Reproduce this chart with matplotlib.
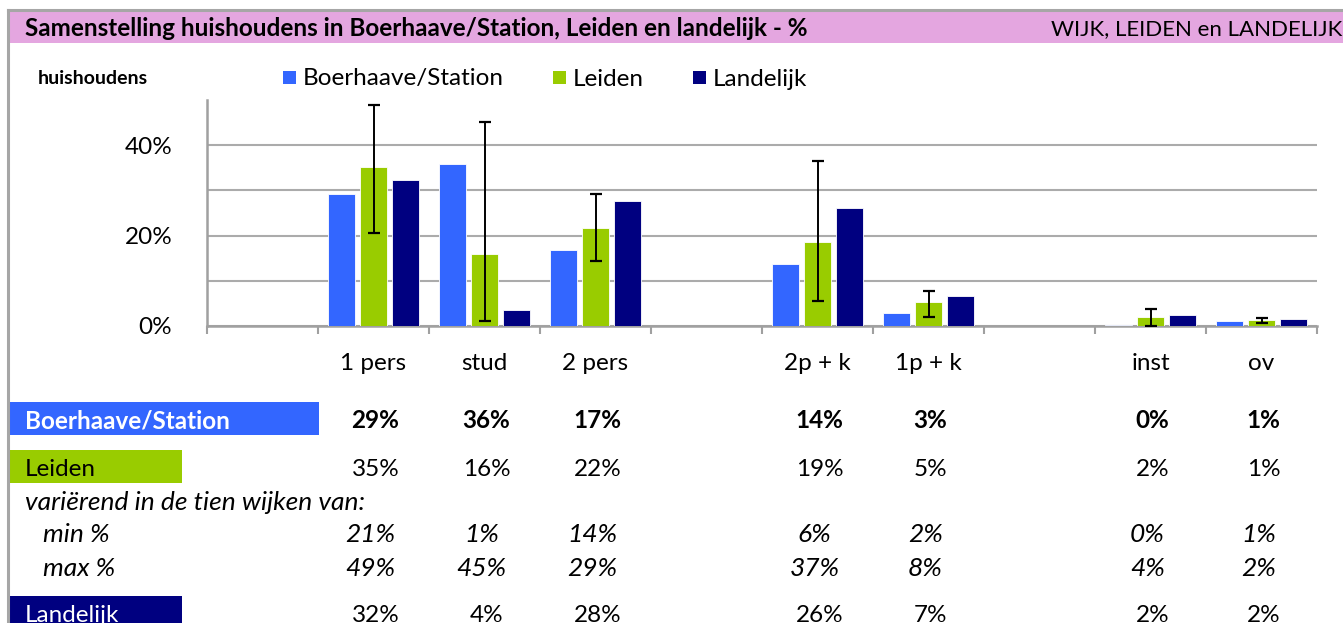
import numpy as np
import matplotlib
matplotlib.use("Agg")
import matplotlib.pyplot as plt
from matplotlib.patches import Rectangle
from matplotlib.lines import Line2D

plt.rcParams['font.family'] = ['Lato', 'DejaVu Sans']

# ==============================
# DATA
# ==============================
categories = ["", "1 pers", "stud", "2 pers", "", "2p + k", "1p + k", "", "inst", "ov"]
nan = np.nan
boerhaave = [nan, 29.3, 35.8, 16.8, nan, 13.7, 2.9, nan, 0.2, 1.1]
leiden = [nan, 35.2, 15.9, 21.6, nan, 18.6, 5.3, nan, 1.9, 1.3]
landelijk = [nan, 32.2, 3.5, 27.6, nan, 26.0, 6.6, nan, 2.4, 1.6]
leiden_min = [nan, 20.6, 1.1, 14.3, nan, 5.6, 1.9, nan, 0.0, 0.7]
leiden_max = [nan, 49.0, 45.2, 29.3, nan, 36.6, 7.7, nan, 3.8, 1.8]

series_names = ["Boerhaave/Station", "Leiden", "Landelijk"]
colors = ["#3366FF", "#99CC00", "#000080"]

title = "Samenstelling huishoudens in Boerhaave/Station, Leiden en landelijk - %"
title_right = "WIJK, LEIDEN en LANDELIJK"

W, H = 1343, 623
FS = 17.5      # normal text
FS_IT = 19     # italic rows (Lato italic runs narrow)
DY = 3         # va=center sits a bit high because of descenders


def fx(px):
    return px / W


def fy(py):
    return 1 - py / H


fig = plt.figure(figsize=(W / 100, H / 100), dpi=100)

# frame + title bar
fig.add_artist(Rectangle((fx(9), fy(43)), 1, fy(11) - fy(43), transform=fig.transFigure,
                         facecolor="#E4A6E0", edgecolor="none"))
fig.add_artist(Line2D([fx(8), 1], [fy(9.5), fy(9.5)], transform=fig.transFigure, color="#A6A6A6", lw=2.2))
fig.add_artist(Line2D([fx(8), fx(8)], [fy(9.5), 0], transform=fig.transFigure, color="#A6A6A6", lw=2.2))
fig.text(fx(25), fy(27 + 2), title, fontsize=17.5, fontweight="bold", va="center", ha="left")
fig.text(fx(1342), fy(27 + 2), title_right, fontsize=16, va="center", ha="right")

# ==============================
# BAR CHART
# ==============================
ax = fig.add_axes([fx(207), fy(326), fx(1317) - fx(207), fy(100) - fy(326)])
x = np.arange(len(categories))
offs = 0.29
bw = 0.245
for i, (vals, c) in enumerate(zip([boerhaave, leiden, landelijk], colors)):
    ax.bar(x + (i - 1) * offs, vals, width=bw, color=c, edgecolor="white", linewidth=0.6, zorder=3)

lv = np.array(leiden)
err = [lv - np.array(leiden_min), np.array(leiden_max) - lv]
ax.errorbar(x, lv, yerr=err, fmt="none", ecolor="black", elinewidth=1.4, capsize=4.2, capthick=1.6, zorder=4)

ax.set_xlim(-0.5, len(categories) - 0.5)
ax.set_ylim(0, 50)
ax.set_yticks([0, 10, 20, 30, 40])
ax.set_yticklabels(["0%", "", "20%", "", "40%"], fontsize=FS)
ax.yaxis.grid(True, color="#ABABAB", lw=1.5, zorder=0)
ax.tick_params(axis="y", length=0, pad=25)

ax.set_xticks(np.arange(-0.5, len(categories)))
ax.tick_params(axis="x", length=6, width=1.5, color="#A0A0A0", labelbottom=False)
for s in ["top", "right"]:
    ax.spines[s].set_visible(False)
for s in ["left", "bottom"]:
    ax.spines[s].set_color("#A0A0A0")
    ax.spines[s].set_linewidth(1.8)

# legend
fig.text(fx(38), fy(78 + 1), "huishoudens", fontsize=14, fontweight="bold", va="center")
leg_x = [283, 553, 693]
for lx, name, c in zip(leg_x, series_names, colors):
    fig.add_artist(Rectangle((fx(lx), fy(84)), fx(13), fy(71) - fy(84), transform=fig.transFigure,
                             facecolor=c, edgecolor="none"))
    fig.text(fx(lx + 20), fy(77 + 2), name, fontsize=FS, va="center")

# ==============================
# TABLE BELOW
# ==============================
def slot_px(i):
    return 207 + (i + 0.5) * 111


for i, lab in enumerate(categories):
    if lab:
        fig.text(fx(slot_px(i)), fy(360 + DY), lab, fontsize=FS, ha="center", va="center")

# row label boxes
fig.add_artist(Rectangle((fx(9), fy(435)), fx(319) - fx(9), fy(402) - fy(435), transform=fig.transFigure,
                         facecolor=colors[0], edgecolor="none"))
fig.add_artist(Rectangle((fx(9), fy(483)), fx(182) - fx(9), fy(450) - fy(483), transform=fig.transFigure,
                         facecolor=colors[1], edgecolor="none"))
fig.add_artist(Rectangle((fx(9), fy(640)), fx(182) - fx(9), fy(596) - fy(640), transform=fig.transFigure,
                         facecolor=colors[2], edgecolor="none"))
fig.text(fx(25), fy(418 + DY), "Boerhaave/Station", fontsize=FS, fontweight="bold", color="white", va="center")
fig.text(fx(25), fy(466 + DY), "Leiden", fontsize=FS, color="black", va="center")
fig.text(fx(25), fy(499 + DY), "variërend in de tien wijken van:", fontsize=FS_IT, style="italic", va="center")
fig.text(fx(43), fy(532 + DY), "min %", fontsize=FS_IT, style="italic", va="center")
fig.text(fx(43), fy(565 + DY), "max %", fontsize=FS_IT, style="italic", va="center")
fig.text(fx(25), fy(612 + DY), "Landelijk", fontsize=FS, color="white", va="center")

rows = [
    (boerhaave, 418, dict(fontweight="bold")),
    (leiden, 466, dict()),
    (leiden_min, 532, dict(style="italic")),
    (leiden_max, 565, dict(style="italic")),
    (landelijk, 612, dict()),
]
for vals, ypx, kw in rows:
    for i, v in enumerate(vals):
        if np.isnan(v):
            continue
        italic = kw.get("style") == "italic"
        dx = -3 if italic else 2
        fig.text(fx(slot_px(i) + dx), fy(ypx + DY), f"{v:.0f}%", fontsize=FS_IT if italic else FS,
                 ha="center", va="center", **kw)

fig.savefig("out.png", dpi=100)
